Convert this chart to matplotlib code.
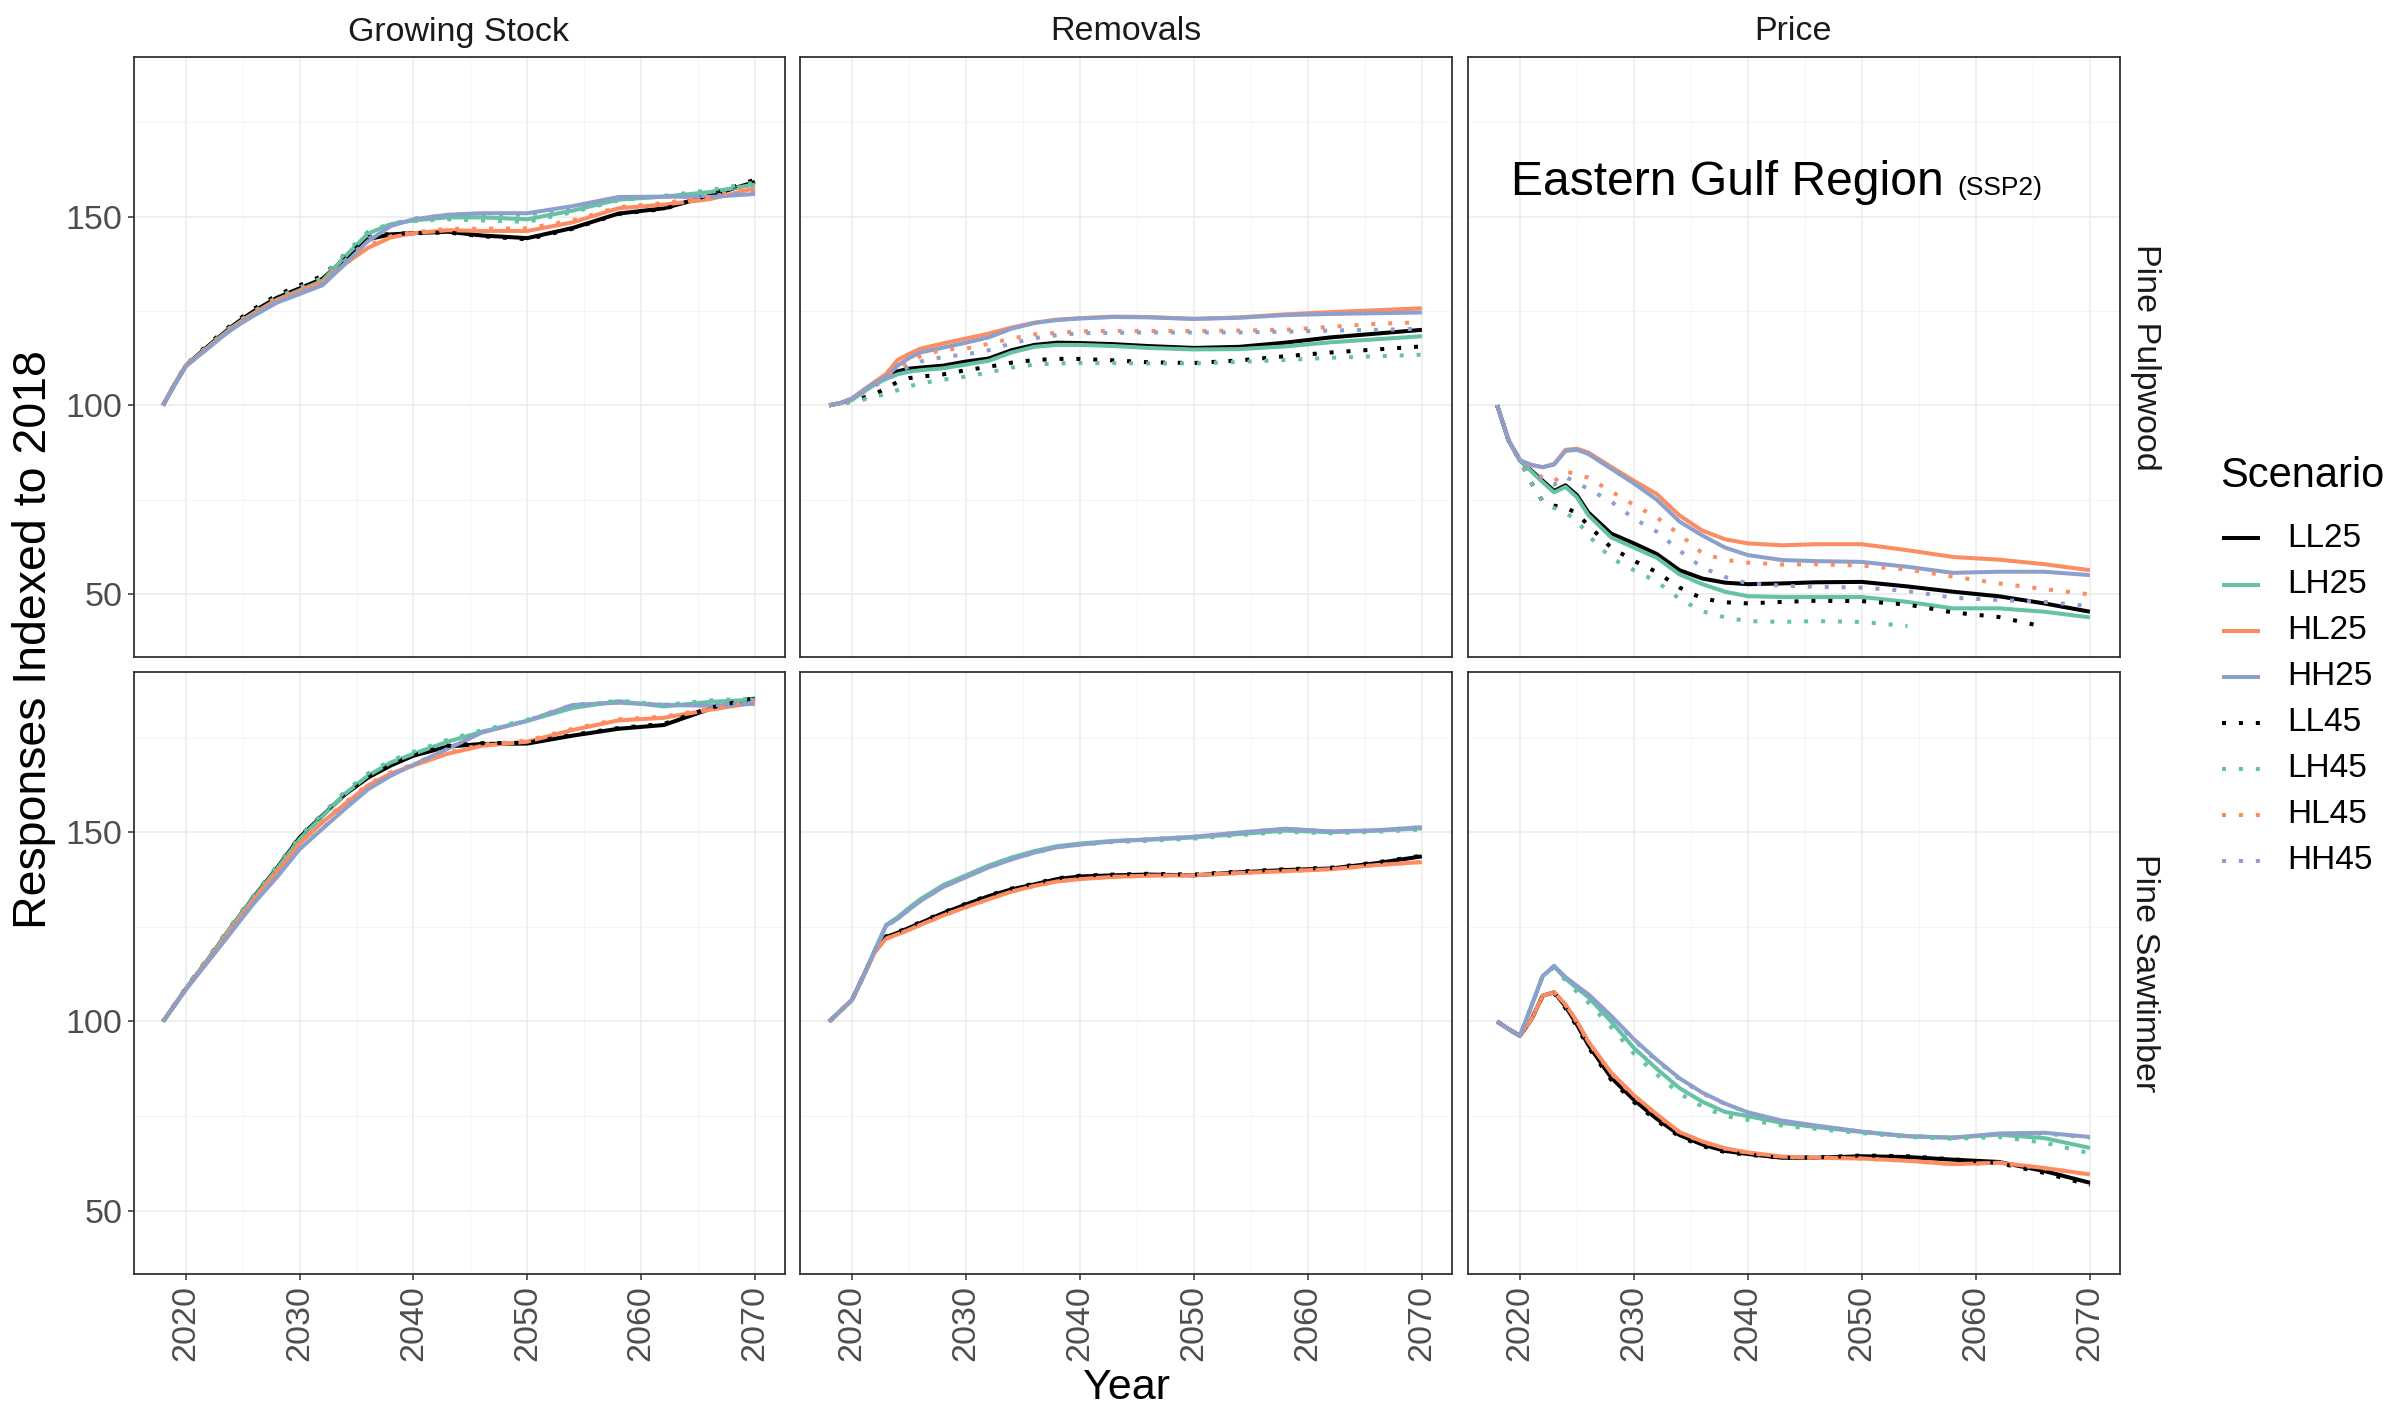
import matplotlib
matplotlib.use("Agg")
import matplotlib.pyplot as plt
import numpy as np
from matplotlib.lines import Line2D

plt.rcParams["font.family"] = ["Liberation Sans", "DejaVu Sans"]

NA = np.nan

YEARS = [2018, 2019, 2020, 2021, 2022, 2023, 2024, 2025, 2026, 2028, 2030, 2032,
         2034, 2036, 2038, 2040, 2043, 2046, 2050, 2054, 2058, 2062, 2066, 2070]

SCENARIOS = ["LL25", "LH25", "HL25", "HH25", "LL45", "LH45", "HL45", "HH45"]
SCENARIO_COLORS = ["black", "#66C2A5", "#FC8D62", "#8DA0CB",
                   "black", "#66C2A5", "#FC8D62", "#8DA0CB"]
COLUMNS = ["Growing Stock", "Removals", "Price"]
ROWS = ["Pine Pulpwood", "Pine Sawtimber"]

# growing stock, pine pulpwood
growing_pulp = {
    "LL25": [100, 105.5, 110.5, 113.2, 115.8, 118.3, 120.8, 123.0, 125.0, 128.5, 131.0, 133.5,
             139.0, 144.0, 145.3, 145.6, 146.0, 145.0, 144.3, 147.0, 150.8, 152.2, 155.5, 159.2],
    "LH25": [100, 105.5, 110.5, 113.0, 115.5, 118.0, 120.5, 122.6, 124.5, 128.0, 130.5, 133.0,
             139.5, 145.5, 148.0, 149.0, 149.8, 149.8, 149.3, 151.6, 154.5, 155.3, 156.5, 158.5],
    "HL25": [100, 105.5, 110.5, 113.0, 115.5, 118.0, 120.3, 122.4, 124.3, 127.8, 130.2, 132.5,
             137.5, 141.7, 144.5, 145.6, 146.4, 146.2, 146.2, 148.5, 152.2, 153.2, 154.6, 157.5],
    "HH25": [100, 105.3, 110.3, 112.8, 115.2, 117.7, 120.0, 122.0, 123.8, 127.2, 129.5, 131.8,
             137.5, 143.5, 147.5, 149.3, 150.5, 150.9, 150.9, 152.8, 155.2, 155.3, 155.2, 156.0],
    "LL45": [100, 105.6, 110.7, 113.5, 116.2, 118.8, 121.3, 123.5, 125.6, 129.2, 131.8, 134.3,
             139.8, 144.5, 145.5, 145.6, 145.8, 144.8, 144.0, 146.8, 150.7, 152.0, 155.8, 159.8],
    "LH45": [100, 105.6, 110.7, 113.3, 115.8, 118.4, 120.9, 123.0, 125.0, 128.6, 131.2, 133.8,
             140.3, 146.0, 148.2, 148.8, 149.3, 149.0, 148.6, 151.2, 154.3, 155.5, 157.0, 159.0],
    "HL45": [100, 105.5, 110.6, 113.2, 115.7, 118.2, 120.6, 122.7, 124.6, 128.2, 130.6, 133.0,
             138.2, 142.3, 144.8, 145.8, 146.8, 146.8, 146.9, 149.0, 152.5, 153.6, 155.2, 158.0],
    "HH45": [100, 105.4, 110.4, 112.9, 115.3, 117.8, 120.2, 122.2, 124.0, 127.5, 129.8, 132.2,
             138.0, 144.0, 147.8, 149.5, 150.4, 150.6, 150.5, 152.5, 155.0, 155.3, 155.5, 156.5],
}

# removals, pine pulpwood
removals_pulp = {
    "LL25": [100, 100.6, 101.6, 103.9, 106.0, 107.8, 109.0, 109.7, 110.0, 110.5, 111.6, 112.4,
             114.6, 116.0, 116.6, 116.5, 116.2, 115.7, 115.2, 115.5, 116.6, 118.0, 119.0, 120.0],
    "LH25": [100, 100.6, 101.4, 103.5, 105.5, 107.0, 108.2, 108.9, 109.3, 109.8, 110.8, 111.8,
             114.0, 115.5, 116.0, 116.0, 115.7, 115.2, 114.8, 114.9, 115.6, 116.7, 117.5, 118.3],
    "HL25": [100, 100.6, 101.8, 104.0, 106.2, 108.3, 112.0, 113.6, 115.0, 116.4, 117.7, 119.0,
             120.6, 121.9, 122.7, 123.1, 123.5, 123.4, 122.9, 123.3, 124.1, 124.7, 125.2, 125.7],
    "HH25": [100, 100.6, 101.8, 104.0, 106.0, 107.5, 110.5, 112.5, 114.0, 115.3, 116.6, 118.0,
             120.3, 121.8, 122.6, 123.0, 123.4, 123.3, 122.9, 123.2, 123.9, 124.2, 124.4, 124.6],
    "LL45": [100, 100.5, 101.0, 102.0, 103.0, 104.5, 106.2, 107.2, 107.6, 108.2, 109.3, 110.2,
             111.3, 112.0, 112.3, 112.3, 111.9, 111.4, 111.2, 111.9, 113.0, 114.0, 114.8, 115.6],
    "LH45": [100, 100.5, 100.8, 101.5, 102.2, 103.0, 104.0, 105.0, 105.8, 106.8, 107.6, 108.7,
             110.0, 110.8, 111.1, 111.2, 111.2, 111.1, 111.1, 111.5, 112.0, 112.6, 113.0, 113.4],
    "HL45": [100, 100.6, 101.6, 103.5, 105.5, 107.5, 109.5, 111.4, 113.0, 114.8, 115.0, 116.3,
             117.7, 118.8, 119.2, 119.6, 119.7, 119.7, 119.7, 119.8, 120.0, 120.8, 121.6, 122.0],
    "HH45": [100, 100.6, 101.6, 103.3, 105.2, 106.8, 108.5, 110.3, 111.6, 112.8, 113.5, 114.6,
             116.4, 117.8, 118.6, 119.1, 119.2, 119.3, 119.3, 119.3, 119.5, 119.8, 120.0, 120.3],
}

# price, pine pulpwood
price_pulp = {
    "LL25": [100, 90.7, 85.4, 82.7, 80.0, 77.3, 78.8, 76.2, 71.6, 66.0, 63.4, 60.6,
             56.3, 54.1, 53.0, 52.6, 52.8, 53.1, 53.2, 52.0, 50.6, 49.4, 47.5, 45.3],
    "LH25": [100, 90.7, 85.4, 82.5, 79.6, 76.9, 78.4, 75.6, 70.9, 65.0, 62.3, 59.6,
             55.2, 52.6, 50.6, 49.4, 49.2, 49.2, 49.2, 47.9, 46.2, 46.2, 45.3, 43.8],
    "HL25": [100, 90.7, 85.4, 84.2, 83.6, 84.5, 88.2, 88.5, 87.5, 83.7, 80.0, 76.5,
             70.8, 66.8, 64.5, 63.4, 62.9, 63.2, 63.2, 61.6, 59.8, 59.1, 57.9, 56.3],
    "HH25": [100, 90.7, 85.4, 84.2, 83.6, 84.3, 87.9, 88.2, 87.1, 83.2, 79.3, 75.0,
             69.2, 65.5, 62.3, 60.3, 59.0, 58.7, 58.5, 57.2, 55.6, 55.9, 55.9, 55.0],
    "LL45": [100, 90.7, 85.4, 79.5, 74.5, 73.4, 73.0, 71.3, 68.2, 62.3, 58.8, 55.8,
             51.7, 48.8, 47.8, 47.5, 47.9, 48.2, 48.1, 47.2, 45.1, 43.9, 41.3, NA],
    "LH45": [100, 90.7, 85.4, 79.5, 74.5, 72.8, 71.5, 69.5, 65.5, 59.5, 56.3, 53.3,
             48.7, 45.4, 43.8, 42.8, 42.6, 42.8, 42.6, 41.5, NA, NA, NA, NA],
    "HL45": [100, 90.7, 85.4, 83.0, 80.8, 79.8, 82.4, 81.8, 80.8, 77.2, 73.6, 70.3,
             65.8, 60.8, 59.0, 58.3, 57.8, 57.9, 57.5, 56.5, 54.6, 52.8, 51.3, 49.9],
    "HH45": [100, 90.7, 85.4, 82.5, 80.0, 79.0, 81.0, 79.5, 77.8, 74.5, 70.0, 66.5,
             61.5, 57.0, 54.5, 52.8, 52.2, 51.9, 51.7, 50.8, 49.0, 48.4, 47.9, 46.8],
}

# growing stock, pine sawtimber
growing_saw = {
    "LL25": [100, 104.3, 108.6, 112.6, 116.6, 120.8, 125.0, 129.0, 133.0, 140.5, 148.6, 154.4,
             160.0, 164.4, 167.6, 170.2, 172.6, 173.3, 173.4, 175.5, 177.3, 178.3, 182.5, 185.3],
    "LH25": [100, 104.3, 108.6, 112.6, 116.6, 120.8, 125.0, 129.0, 132.8, 140.3, 148.2, 154.2,
             160.2, 164.9, 168.4, 170.7, 173.9, 176.5, 179.4, 182.8, 184.6, 183.2, 184.4, 185.0],
    "HL25": [100, 104.3, 108.5, 112.4, 116.3, 120.3, 124.4, 128.3, 132.2, 139.5, 147.0, 152.6,
             157.5, 162.3, 165.5, 167.6, 170.7, 172.8, 173.9, 177.0, 179.5, 180.2, 182.3, 184.2],
    "HH25": [100, 104.2, 108.4, 112.2, 116.0, 119.8, 123.6, 127.5, 131.3, 138.1, 145.5, 150.9,
             156.2, 161.3, 164.9, 167.8, 172.0, 176.3, 179.4, 183.6, 184.2, 183.6, 183.4, 183.9],
    "LL45": [100, 104.4, 108.8, 112.9, 116.9, 121.1, 125.3, 129.3, 133.3, 140.8, 148.9, 154.7,
             160.3, 164.7, 167.9, 170.4, 172.8, 173.5, 173.6, 175.7, 177.5, 178.6, 182.8, 185.5],
    "LH45": [100, 104.4, 108.9, 113.0, 117.1, 121.3, 125.5, 129.5, 133.4, 141.0, 148.8, 154.8,
             160.8, 165.5, 168.9, 171.2, 174.4, 176.9, 179.7, 183.0, 184.8, 183.6, 184.8, 185.3],
    "HL45": [100, 104.3, 108.6, 112.6, 116.6, 120.6, 124.7, 128.6, 132.5, 139.8, 147.3, 152.9,
             157.8, 162.6, 165.8, 167.9, 171.0, 173.1, 174.2, 177.3, 179.8, 180.5, 182.6, 184.5],
    "HH45": [100, 104.2, 108.4, 112.3, 116.1, 119.9, 123.7, 127.6, 131.4, 138.2, 145.6, 151.0,
             156.3, 161.4, 165.0, 167.9, 172.1, 176.4, 179.5, 183.7, 184.3, 183.7, 183.5, 184.0],
}

# removals, pine sawtimber
removals_saw = {
    "LL25": [100, 102.8, 105.7, 112.0, 118.5, 122.3, 123.4, 124.7, 126.0, 128.6, 130.9, 133.1,
             134.9, 136.2, 137.6, 138.3, 138.6, 138.8, 138.6, 139.4, 140.0, 140.4, 141.8, 143.6],
    "LH25": [100, 102.8, 105.7, 112.0, 118.7, 125.5, 127.5, 130.0, 132.3, 136.0, 138.6, 141.2,
             143.3, 145.0, 146.3, 147.0, 147.7, 148.0, 148.6, 149.5, 150.4, 150.0, 150.4, 151.0],
    "HL25": [100, 102.8, 105.7, 111.8, 118.3, 121.9, 123.0, 124.2, 125.5, 128.0, 130.2, 132.3,
             134.3, 135.8, 137.0, 137.6, 138.2, 138.5, 138.6, 139.2, 139.7, 140.2, 141.3, 142.1],
    "HH25": [100, 102.8, 105.7, 112.0, 118.7, 125.3, 127.1, 129.5, 131.8, 135.5, 138.1, 140.7,
             142.8, 144.6, 146.0, 146.7, 147.6, 148.1, 148.8, 149.9, 150.9, 150.2, 150.5, 151.3],
    "LL45": [100, 102.8, 105.7, 112.0, 118.5, 122.5, 123.6, 124.9, 126.2, 128.8, 131.1, 133.3,
             135.1, 136.4, 137.8, 138.5, 138.8, 139.0, 138.8, 139.6, 140.2, 140.6, 142.0, 143.8],
    "LH45": [100, 102.8, 105.7, 112.0, 118.7, 125.2, 127.2, 129.7, 132.0, 135.7, 138.3, 140.9,
             143.0, 144.7, 146.0, 146.7, 147.4, 147.7, 148.3, 149.2, 150.1, 149.7, 150.1, 150.7],
    "HL45": [100, 102.8, 105.7, 111.8, 118.3, 121.9, 123.0, 124.2, 125.5, 128.0, 130.2, 132.3,
             134.3, 135.8, 137.0, 137.6, 138.2, 138.5, 138.6, 139.2, 139.7, 140.2, 141.3, 142.1],
    "HH45": [100, 102.8, 105.7, 112.0, 118.7, 125.3, 127.1, 129.5, 131.8, 135.5, 138.1, 140.7,
             142.8, 144.6, 146.0, 146.7, 147.6, 148.1, 148.8, 149.9, 150.9, 150.2, 150.5, 151.3],
}

# price, pine sawtimber
price_saw = {
    "LL25": [100, 98.0, 96.2, 100.5, 106.8, 107.7, 104.0, 99.2, 93.8, 85.2, 79.3, 74.3,
             70.0, 67.5, 65.8, 65.0, 64.0, 64.0, 64.4, 64.2, 63.5, 62.9, 60.5, 57.4],
    "LH25": [100, 98.0, 96.2, 104.0, 112.0, 114.5, 111.3, 108.8, 106.4, 100.0, 93.0, 87.5,
             82.4, 78.8, 76.1, 75.0, 73.2, 72.1, 70.8, 69.7, 69.3, 70.1, 69.2, 66.6],
    "HL25": [100, 98.0, 96.2, 100.5, 106.8, 107.7, 104.5, 100.0, 94.7, 86.5, 80.5, 75.5,
             70.8, 68.3, 66.5, 65.4, 64.3, 64.0, 63.8, 63.2, 62.3, 62.7, 61.3, 59.6],
    "HH25": [100, 98.0, 96.2, 104.0, 112.0, 114.7, 111.7, 109.4, 107.2, 101.5, 95.3, 89.9,
             85.0, 81.2, 78.3, 76.0, 73.8, 72.5, 70.9, 69.7, 69.3, 70.4, 70.6, 69.5],
    "LL45": [100, 98.0, 96.2, 100.5, 106.8, 107.5, 103.5, 98.7, 93.2, 84.6, 78.7, 73.8,
             69.6, 67.1, 65.5, 64.8, 64.0, 64.1, 64.6, 64.4, 63.6, 62.6, 60.0, 56.8],
    "LH45": [100, 98.0, 96.2, 104.0, 112.0, 114.3, 110.8, 107.8, 105.0, 98.5, 91.5, 86.0,
             81.0, 77.5, 75.0, 74.0, 72.5, 71.6, 70.5, 69.5, 69.0, 69.5, 68.0, 65.2],
    "HL45": [100, 98.0, 96.2, 100.5, 106.8, 107.7, 104.3, 99.8, 94.5, 86.3, 80.3, 75.3,
             70.7, 68.2, 66.4, 65.3, 64.2, 64.0, 63.8, 63.2, 62.3, 62.6, 61.2, 59.5],
    "HH45": [100, 98.0, 96.2, 104.0, 112.0, 114.6, 111.5, 109.2, 107.0, 101.3, 95.0, 89.6,
             84.8, 81.0, 78.2, 75.9, 73.7, 72.4, 70.9, 69.7, 69.3, 70.3, 70.4, 69.3],
}

PANEL_DATA = [[growing_pulp, removals_pulp, price_pulp],
              [growing_saw, removals_saw, price_saw]]

W, H = 2407, 1411
COL_PX = [(133.5, 784.5), (799.5, 1451.5), (1467.5, 2119.5)]
ROW_PX = [(57, 657), (672, 1274)]
LINE_W = 2.9
DOT = (1, 3.2)


def px_box(x0, y0, x1, y1):
    return [x0 / W, 1 - y1 / H, (x1 - x0) / W, (y1 - y0) / H]


def style_for(name):
    return dict(color=SCENARIO_COLORS[SCENARIOS.index(name)], lw=LINE_W,
                solid_capstyle="butt", dash_capstyle="butt")


fig = plt.figure(figsize=(W / 100, H / 100), dpi=100)
fig.patch.set_facecolor("white")

axes = []
for r, (y0, y1) in enumerate(ROW_PX):
    row_axes = []
    for c, (x0, x1) in enumerate(COL_PX):
        ax = fig.add_axes(px_box(x0, y0, x1, y1))
        data = PANEL_DATA[r][c]
        for name in SCENARIOS:
            line, = ax.plot(YEARS, data[name], **style_for(name))
            if name.endswith("45"):
                line.set_dashes(DOT)
        ax.set_xlim(2015.4, 2072.6)
        ax.set_ylim(33.3, 192.3)
        ax.set_xticks([2020, 2030, 2040, 2050, 2060, 2070])
        ax.set_xticks([2025, 2035, 2045, 2055, 2065], minor=True)
        ax.set_yticks([50, 100, 150])
        ax.set_yticks([75, 125, 175], minor=True)
        ax.grid(True, which="major", color="#EBEBEB", lw=1.1, zorder=0)
        ax.grid(True, which="minor", color="#F2F2F2", lw=0.6, zorder=0)
        ax.set_axisbelow(True)
        for sp in ax.spines.values():
            sp.set_color("#333333")
            sp.set_linewidth(1.3)
        ax.tick_params(which="minor", length=0)
        ax.tick_params(which="major", length=4.3, width=1.1, color="#333333",
                       labelcolor="#4D4D4D", labelsize=24.5, pad=3.5)
        ax.tick_params(axis="x", labelrotation=90)
        if c != 0:
            ax.tick_params(axis="y", left=False, labelleft=False)
        if r != 1:
            ax.tick_params(axis="x", bottom=False, labelbottom=False)
        row_axes.append(ax)
    axes.append(row_axes)

# facet strip labels
for c, (x0, x1) in enumerate(COL_PX):
    fig.text((x0 + x1) / 2 / W, 1 - 32 / H, COLUMNS[c], ha="center", va="center",
             fontsize=24.5, color="#1A1A1A")
for r, (y0, y1) in enumerate(ROW_PX):
    fig.text(2145 / W, 1 - (y0 + y1) / 2 / H, ROWS[r], ha="center", va="center",
             rotation=270, fontsize=24.5, color="#1A1A1A")

fig.text(1127 / W, 1 - 1388 / H, "Year", ha="center", va="center", fontsize=31)
fig.text(34 / W, 1 - 640 / H, "Responses Indexed to 2018", ha="center", va="center",
         rotation=90, fontsize=33.5)

# region title inside the price panel
price_ax = axes[0][2]
title = price_ax.text(2019.2, 155.7, "Eastern Gulf Region", fontsize=34.6, va="baseline",
                      ha="left", color="black")
fig.canvas.draw()
bb = title.get_window_extent(renderer=fig.canvas.get_renderer())
inv = price_ax.transData.inverted()
x_end = inv.transform((bb.x1 + 14, 0))[0]
price_ax.text(x_end, 155.7, "(SSP2)", fontsize=19, va="baseline", ha="left", color="black")

# legend
fig.text(2220 / W, 1 - 476 / H, "Scenario", ha="left", va="center", fontsize=30)
for i, name in enumerate(SCENARIOS):
    y = 1 - (538.5 + i * 46.05) / H
    key = Line2D([2222 / W, 2260 / W], [y, y], transform=fig.transFigure, **style_for(name))
    if name.endswith("45"):
        key.set_dashes(DOT)
    fig.add_artist(key)
    fig.text(2287 / W, y, name, ha="left", va="center", fontsize=24)

fig.savefig("out.png", dpi=100, facecolor="white")
